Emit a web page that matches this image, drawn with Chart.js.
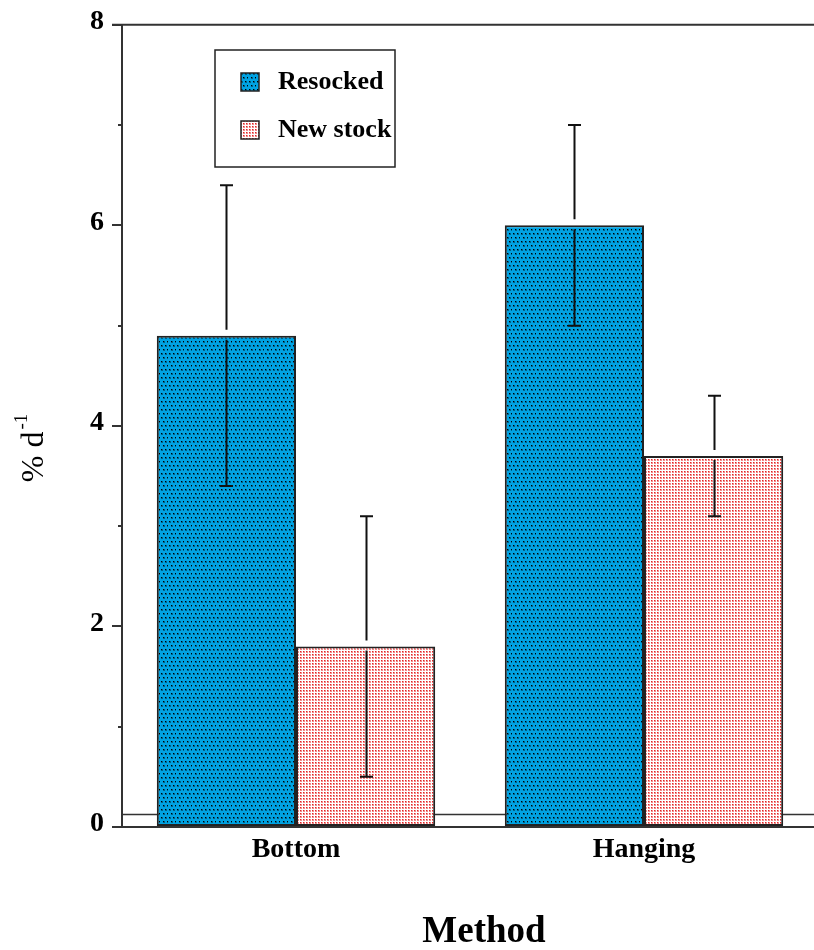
<!DOCTYPE html>
<html>
<head>
<meta charset="utf-8">
<script src="https://cdn.jsdelivr.net/npm/chart.js@4.4.1/dist/chart.umd.min.js"></script>
<style>
  html, body { margin: 0; padding: 0; overflow: hidden; background: #fff; }
  canvas { display: block; }
</style>
</head>
<body>
<canvas id="c" width="818" height="950"></canvas>
<script>
// Growth rate by culture method
const methods = ['Bottom', 'Hanging'];
const resocked = [4.9, 6.0];
const resockedErr = [1.5, 1.0];
const newStock = [1.8, 3.7];
const newStockErr = [1.3, 0.6];
const yMax = 8;
const baselineValue = 0.13;

const SERIF = "'Liberation Serif', 'Times New Roman', serif";

// Dotted fills
function bluePattern() {
  const c = document.createElement('canvas');
  c.width = 8; c.height = 8;
  const g = c.getContext('2d');
  g.fillStyle = '#00a2e2';
  g.fillRect(0, 0, 8, 8);
  [[1, 1], [5, 1], [3, 5], [7, 5]].forEach(([x, y]) => {
    g.fillStyle = 'rgba(0,0,0,0.4)';
    g.fillRect(x, y, 2, 2);
    g.fillStyle = '#000';
    g.fillRect(x, y, 1, 1);
  });
  return g.createPattern(c, 'repeat');
}
function redPattern() {
  const c = document.createElement('canvas');
  c.width = 3; c.height = 3;
  const g = c.getContext('2d');
  g.fillStyle = '#ffffff';
  g.fillRect(0, 0, 3, 3);
  g.fillStyle = '#f28a8a';
  g.fillRect(0, 0, 2, 2);
  g.fillStyle = '#e02525';
  g.fillRect(0, 0, 1, 1);
  return g.createPattern(c, 'repeat');
}

const ctx = document.getElementById('c').getContext('2d');
const blueFill = bluePattern();
const redFill = redPattern();

const decorations = {
  id: 'decorations',
  beforeDatasetsDraw(chart) {
    const { ctx, chartArea, scales } = chart;
    const y = scales.y;
    // thin reference line just above zero
    const yb = Math.round(y.getPixelForValue(baselineValue)) + 0.5;
    ctx.save();
    ctx.strokeStyle = '#333';
    ctx.lineWidth = 1.5;
    ctx.beginPath();
    ctx.moveTo(chartArea.left, yb);
    ctx.lineTo(chartArea.right, yb);
    ctx.stroke();
    ctx.restore();
  },
  afterDatasetsDraw(chart) {
    const { ctx, scales } = chart;
    const y = scales.y;
    const errs = [resockedErr, newStockErr];
    ctx.save();
    ctx.strokeStyle = '#111';
    ctx.lineWidth = 2;
    chart.data.datasets.forEach((ds, di) => {
      const meta = chart.getDatasetMeta(di);
      meta.data.forEach((bar, i) => {
        const v = ds.data[i];
        const e = errs[di][i];
        const x = Math.round(bar.x) + 0.5;
        const yTop = y.getPixelForValue(v + e);
        const yBot = y.getPixelForValue(v - e);
        const yBar = y.getPixelForValue(v);
        ctx.beginPath();
        ctx.moveTo(x, yTop);
        ctx.lineTo(x, yBar - 6);
        ctx.moveTo(x, yBar + 4);
        ctx.lineTo(x, yBot);
        ctx.moveTo(x - 6.5, yTop);
        ctx.lineTo(x + 6.5, yTop);
        ctx.moveTo(x - 6.5, yBot);
        ctx.lineTo(x + 6.5, yBot);
        ctx.stroke();
      });
    });
    ctx.restore();
  },
  afterDraw(chart) {
    const { ctx, chartArea, scales } = chart;
    const y = scales.y;
    ctx.save();
    // frame top
    const yt = y.getPixelForValue(yMax);
    ctx.strokeStyle = '#333';
    ctx.lineWidth = 2;
    ctx.beginPath();
    ctx.moveTo(chartArea.left - 10, yt);
    ctx.lineTo(chart.width, yt);
    ctx.stroke();

    // minor ticks
    ctx.lineWidth = 2;
    for (let v = 1; v < yMax; v += 2) {
      const py = Math.round(y.getPixelForValue(v));
      ctx.beginPath();
      ctx.moveTo(chartArea.left - 4, py);
      ctx.lineTo(chartArea.left, py);
      ctx.stroke();
    }

    // legend
    const bx = 215, by = 50, bw = 180, bh = 117;
    ctx.fillStyle = '#fff';
    ctx.fillRect(bx, by, bw, bh);
    ctx.strokeStyle = '#222';
    ctx.lineWidth = 1.5;
    ctx.strokeRect(bx, by, bw, bh);
    const rows = [
      { y: 73, base: 89 },
      { y: 121, base: 137 }
    ];
    chart.data.datasets.forEach((ds, i) => {
      const r = rows[i];
      ctx.fillStyle = ds.backgroundColor;
      ctx.fillRect(241, r.y, 18, 18);
      ctx.strokeStyle = '#222';
      ctx.lineWidth = 1.5;
      ctx.strokeRect(241, r.y, 18, 18);
      ctx.fillStyle = '#000';
      ctx.font = 'bold 26px ' + SERIF;
      ctx.textAlign = 'left';
      ctx.textBaseline = 'alphabetic';
      ctx.fillText(ds.label, 278, r.base);
    });

    // y-axis title with superscript
    ctx.translate(43, 448);
    ctx.rotate(-Math.PI / 2);
    ctx.fillStyle = '#000';
    ctx.font = '32px ' + SERIF;
    const main = '% d';
    const mw = ctx.measureText(main).width;
    ctx.font = '19px ' + SERIF;
    const sw = ctx.measureText('-1').width;
    const start = -(mw + sw + 2) / 2;
    ctx.font = '32px ' + SERIF;
    ctx.textAlign = 'left';
    ctx.fillText(main, start, 0);
    ctx.font = '19px ' + SERIF;
    ctx.fillText('-1', start + mw + 2, -16);
    ctx.setTransform(1, 0, 0, 1, 0, 0);

    // x-axis title
    ctx.font = 'bold 37px ' + SERIF;
    ctx.textAlign = 'center';
    ctx.fillStyle = '#000';
    ctx.fillText('Method', 484, 942);
    ctx.restore();
  }
};

new Chart(ctx, {
  type: 'bar',
  data: {
    labels: methods,
    datasets: [
      {
        label: 'Resocked',
        data: resocked,
        backgroundColor: blueFill,
        borderColor: '#222',
        borderWidth: 2,
        borderSkipped: false
      },
      {
        label: 'New stock',
        data: newStock,
        backgroundColor: redFill,
        borderColor: '#222',
        borderWidth: 2,
        borderSkipped: false
      }
    ]
  },
  options: {
    responsive: false,
    animation: false,
    events: [],
    layout: { padding: { top: 24, right: 0, left: 0, bottom: 0 } },
    plugins: {
      legend: { display: false },
      tooltip: { enabled: false },
      title: { display: false }
    },
    datasets: {
      bar: { categoryPercentage: 0.8, barPercentage: 1.0 }
    },
    scales: {
      x: {
        grid: { display: false, drawTicks: false },
        border: { display: true, color: '#333', width: 2 },
        ticks: {
          color: '#000',
          padding: 6,
          font: { family: SERIF, size: 28, weight: 'bold' }
        },
        afterFit(scale) { scale.height = 123; }
      },
      y: {
        min: 0,
        max: yMax,
        grid: {
          drawOnChartArea: false,
          tickLength: 10,
          lineWidth: 2,
          color: (c) => (c.tick && c.tick.value % 2 === 0 ? '#333' : 'rgba(0,0,0,0)')
        },
        border: { display: true, color: '#333', width: 2 },
        ticks: {
          stepSize: 1,
          color: '#000',
          padding: 8,
          labelOffset: -3,
          font: { family: SERIF, size: 28, weight: 'bold' },
          callback: (v) => (v % 2 === 0 ? String(v) : '')
        },
        afterFit(scale) { scale.width = 122; }
      }
    }
  },
  plugins: [decorations]
});
</script>
</body>
</html>
